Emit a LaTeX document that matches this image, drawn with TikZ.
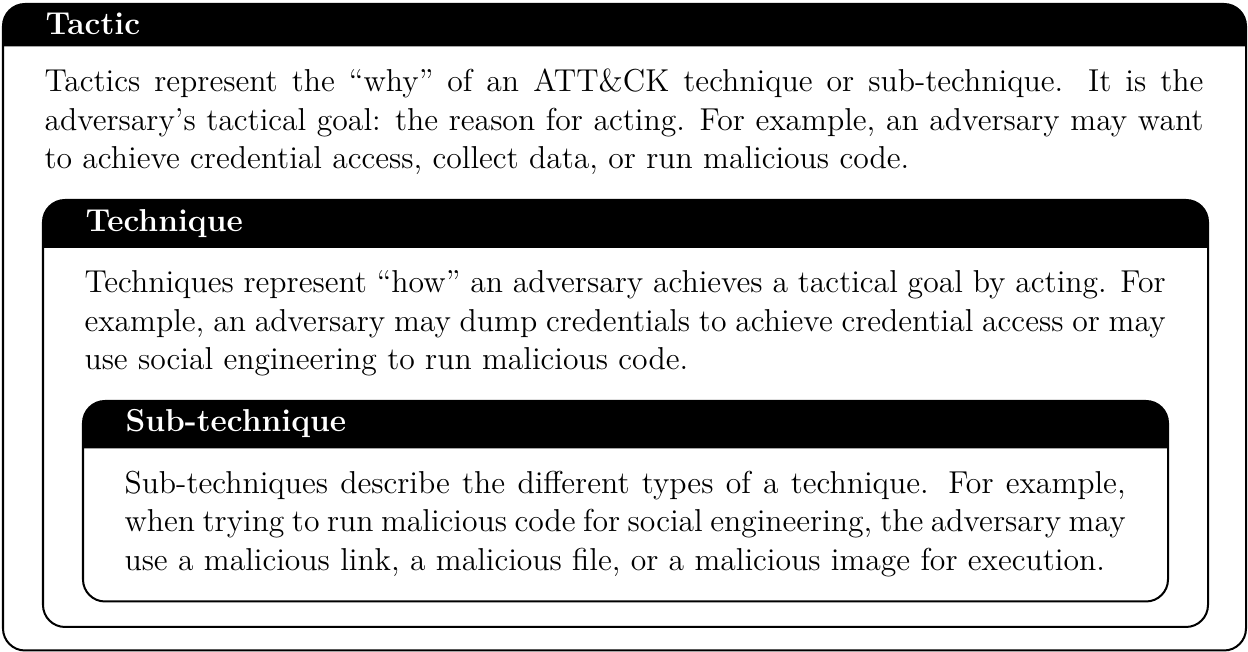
\documentclass[tikz,border=0pt]{standalone}
\newcommand\attbox[5]{%
  \fill[white, rounded corners=8.33pt] (#1,#2) rectangle (#3,#4);
  \fill[black] (#1,#5) [rounded corners=8.33pt] -- (#1,#2) -- (#3,#2) [sharp corners] -- (#3,#5) -- cycle;
  \draw[frame] (#1,#2) rectangle (#3,#4);
}
\newcommand\jline[2]{\makebox[#1][s]{#2}}
\tikzset{
  frame/.style={draw=black, line width=0.76pt, rounded corners=8.33pt},
  bodytext/.style={anchor=base west, inner sep=0pt, font=\fontsize{12}{14.5}\selectfont},
  titletext/.style={anchor=base west, inner sep=0pt, text=white, font=\fontsize{12}{14.5}\selectfont\bfseries},
}
\begin{document}
\begin{tikzpicture}[x=0.37879pt,y=-0.37879pt]
\useasboundingbox (0,0) rectangle (1248,652);
% outer box: Tactic
\attbox{3}{4}{1246}{650.5}{46.5}
% Technique box
\attbox{43}{200}{1208}{627}{248}
% Sub-technique box
\attbox{83}{401}{1168}{601.5}{448.5}

\node[titletext] (tactitle) at (45,35) {Tactic};
\node[bodytext] (tacbody) at (44,92) {\parbox[t]{439pt}{%
\jline{439pt}{Tactics represent the ``why'' of an ATT\&CK technique or sub-technique. It is the}\\
\jline{439pt}{adversary's tactical goal: the reason for acting. For example, an adversary may want}\\
to achieve credential access, collect data, or run malicious code.}};

\node[titletext] (techtitle) at (85,232) {Technique};
\node[bodytext] (techbody) at (84,293) {\parbox[t]{409.5pt}{%
\jline{409.5pt}{Techniques represent ``how'' an adversary achieves a tactical goal by acting. For}\\
\jline{409.5pt}{example, an adversary may dump credentials to achieve credential access or may}\\
use social engineering to run malicious code.}};

\node[titletext] (subtitle) at (125,432) {Sub-technique};
\node[bodytext] (subbody) at (124,493.5) {\parbox[t]{379.2pt}{%
\jline{379.2pt}{Sub-techniques describe the different types of a technique. For example,}\\
\jline{379.2pt}{when trying to run malicious code for social engineering, the adversary may}\\
use a malicious link, a malicious file, or a malicious image for execution.}};
\end{tikzpicture}
\end{document}
